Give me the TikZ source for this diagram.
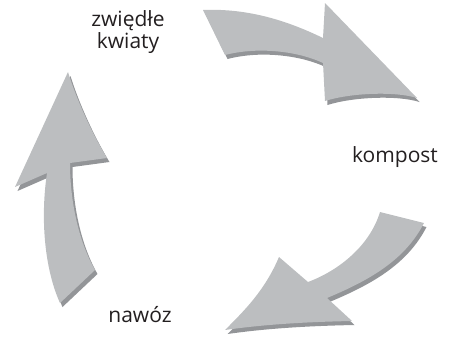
\documentclass[tikz,border=0pt]{standalone}
\usepackage{fontspec}
\setmainfont{Open Sans}
\definecolor{arrowgray}{HTML}{BCBEC0}
\definecolor{shadegray}{HTML}{939598}
\definecolor{inkgray}{HTML}{231F20}
\tikzset{
  label/.style={inner sep=0pt, text=inkgray, font=\fontsize{21}{20}\selectfont, align=center},
  blockarrow/.style={fill=arrowgray},
  blockshade/.style={fill=shadegray, shift={(2.5,4)}}
}
\begin{document}
\begin{tikzpicture}[x=1pt,y=-1pt]
\useasboundingbox (0,0) rectangle (449,338);
% top arrow
\foreach \s in {blockshade,blockarrow}
  \fill[\s] (203,10) .. controls (250,8) and (290,22) .. (323,38) -- (325,3) -- (417,98)
    .. controls (395,91) and (350,93) .. (325,101) -- (323,63)
    .. controls (300,52) and (260,46) .. (225,55) -- cycle;
% right arrow
\foreach \s in {blockshade,blockarrow}
  \fill[\s] (380,212) -- (424,223) .. controls (405,260) and (370,280) .. (327,298) -- (352,321)
    .. controls (300,322) and (260,325) .. (225,330)
    .. controls (245,310) and (265,290) .. (279,257) -- (308,282)
    .. controls (340,270) and (370,245) .. (380,212) -- cycle;
% left arrow
\foreach \s in {blockshade,blockarrow}
  \fill[\s] (68,72) -- (15,187) -- (47,173) .. controls (40,220) and (45,270) .. (60,303) -- (95,270)
    .. controls (78,240) and (70,200) .. (70,163) -- (107,158)
    .. controls (90,130) and (75,95) .. (68,72) -- cycle;
\node[label, anchor=base] (kwiaty) at (128,48) {zwiędłe\\kwiaty};
\node[label, anchor=base] (kompost) at (395,162) {kompost};
\node[label, anchor=base] (nawoz) at (140,322) {nawóz};
\end{tikzpicture}
\end{document}
